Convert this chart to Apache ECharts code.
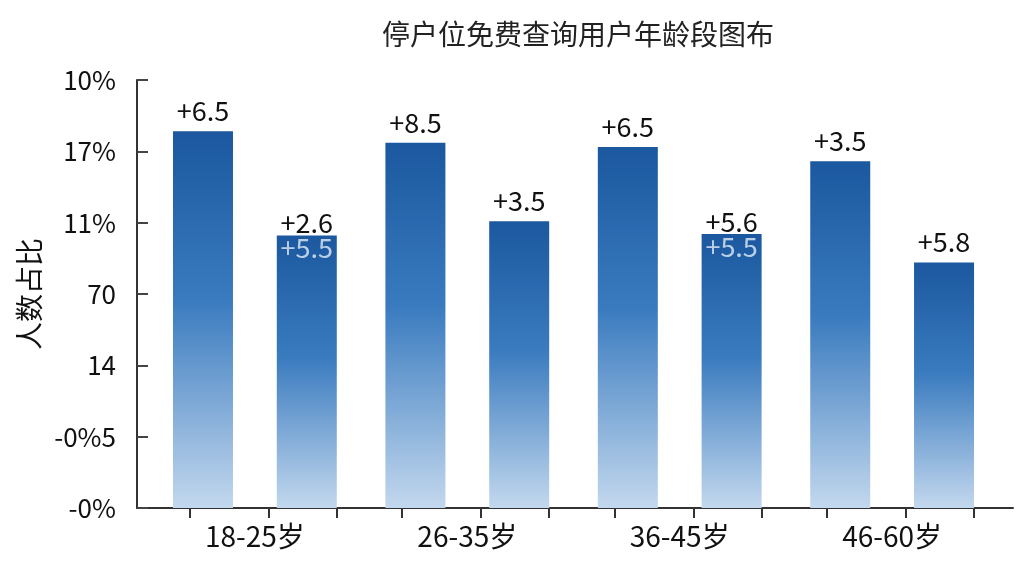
<!DOCTYPE html>
<html>
<head>
<meta charset="utf-8">
<script src="https://cdn.jsdelivr.net/npm/echarts@6/dist/echarts.min.js"></script>
<style>
  html, body { margin: 0; padding: 0; background: #fff; }
  #main { width: 1024px; height: 576px; }
</style>
</head>
<body>
<div id="main"></div>
<script>
// 数据
var categories = ["18-25岁", "26-35岁", "36-45岁", "46-60岁"];
var seriesA = [26.4, 25.6, 25.3, 24.3];
var seriesB = [19.1, 20.1, 19.2, 17.2];
var labelsA = ["+6.5", "+8.5", "+6.5", "+3.5"];
var labelsB = ["+2.6", "+3.5", "+5.6", "+5.8"];
var ghostB = ["+5.5", "", "+5.5", ""]; // 柱顶内叠着的浅色数字
var yTickLabels = ["-0%", "-0%5", "14", "70", "11%", "17%", "10%"];

var FONT = "Noto Sans CJK SC";

var barColor = new echarts.graphic.LinearGradient(0, 0, 0, 1, [
  { offset: 0, color: "#1b589f" },
  { offset: 0.45, color: "#3a7bbf" },
  { offset: 1, color: "#c3d8ee" }
]);

function withLabels(values, labels, ghosts) {
  return values.map(function (v, i) {
    var g = ghosts ? ghosts[i] : "";
    if (!g) {
      return { value: [i, v], label: { formatter: labels[i] } };
    }
    return {
      value: [i, v],
      label: {
        formatter: "{a|" + labels[i] + "}\n{b|" + g + "}",
        distance: -25
      }
    };
  });
}

// 每个年龄段下三个小刻度（相对类目起点）
var tickOffsets = [0.193, 0.565, 0.885];
var tickValues = [];
categories.forEach(function (c, i) {
  tickOffsets.forEach(function (o) {
    tickValues.push(i - 0.5 + o);
  });
});

var chart = echarts.init(document.getElementById("main"));
var labelStyle = {
  show: true,
  position: "top",
  distance: 7,
  color: "#111",
  fontSize: 27,
  fontFamily: FONT,
  rich: {
    a: { fontSize: 27, color: "#111", fontFamily: FONT, lineHeight: 25 },
    b: { fontSize: 27, color: "rgba(225,236,248,0.8)", fontFamily: FONT, lineHeight: 25 }
  }
};

chart.setOption({
  animation: false,
  backgroundColor: "#fff",
  title: {
    text: "停户位免费查询用户年龄段图布",
    left: 377,
    top: 15,
    textStyle: { fontSize: 28, fontWeight: "normal", color: "#222", fontFamily: FONT }
  },
  grid: { left: 137, right: 11, top: 80, bottom: 68 },
  xAxis: {
    type: "value",
    min: -0.555,
    max: 3.569,
    splitLine: { show: false },
    axisLine: { show: true, onZero: false, lineStyle: { color: "#333", width: 2 } },
    axisTick: {
      show: true,
      length: 10,
      customValues: tickValues,
      lineStyle: { color: "#333", width: 2 }
    },
    axisLabel: {
      color: "#111",
      fontSize: 28,
      fontFamily: FONT,
      margin: 14,
      customValues: [0, 1, 2, 3],
      formatter: function (v) {
        return categories[Math.round(v)];
      }
    }
  },
  yAxis: {
    type: "value",
    min: 0,
    max: 30,
    interval: 5,
    name: "人数占比",
    nameLocation: "middle",
    nameGap: 84,
    nameTextStyle: { fontSize: 28, color: "#111", fontFamily: FONT },
    axisLine: { show: true, onZero: false, lineStyle: { color: "#333", width: 2 } },
    axisTick: { show: true, inside: true, length: 11, lineStyle: { color: "#444", width: 2 } },
    splitLine: { show: false },
    axisLabel: {
      color: "#111",
      fontSize: 26,
      fontFamily: FONT,
      margin: 21,
      formatter: function (v) {
        return yTickLabels[Math.round(v / 5)];
      }
    }
  },
  series: [
    {
      type: "bar",
      barWidth: 60,
      barGap: "73%",
      itemStyle: { color: barColor },
      label: labelStyle,
      data: withLabels(seriesA, labelsA)
    },
    {
      type: "bar",
      barWidth: 60,
      barGap: "73%",
      itemStyle: { color: barColor },
      label: labelStyle,
      data: withLabels(seriesB, labelsB, ghostB)
    }
  ]
});
</script>
</body>
</html>
